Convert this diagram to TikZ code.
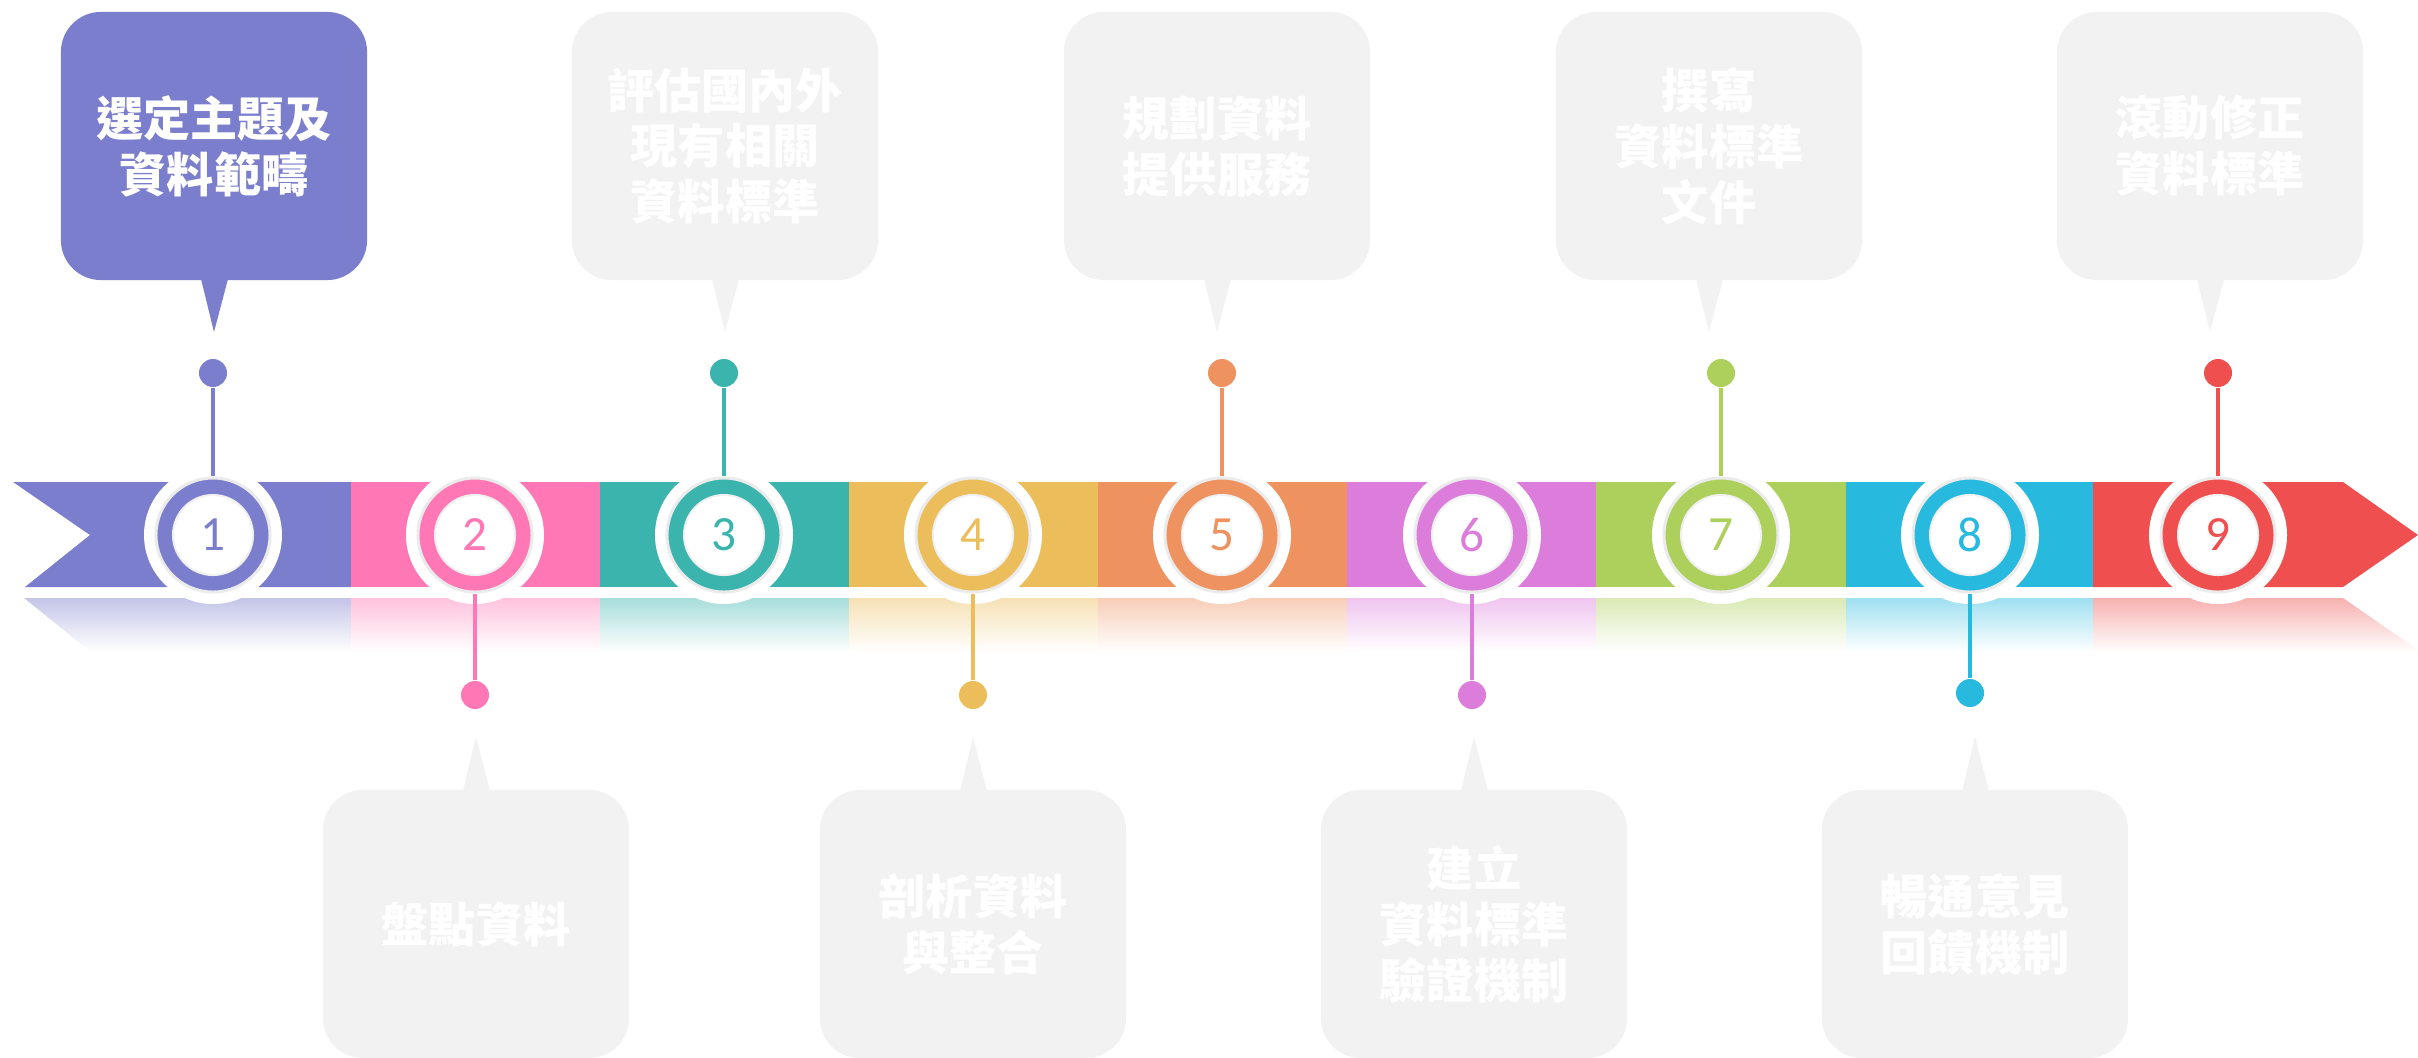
\documentclass[tikz,border=0pt]{standalone}
\usepackage{fontspec}
\setmainfont{Carlito}
\newfontfamily\cjk{Noto Sans CJK TC}

\definecolor{sPurple}{HTML}{7B7ECC}
\definecolor{sPink}{HTML}{FF77B4}
\definecolor{sTeal}{HTML}{3BB4AE}
\definecolor{sYellow}{HTML}{EBBD5B}
\definecolor{sOrange}{HTML}{EE9260}
\definecolor{sMagenta}{HTML}{DC7DDC}
\definecolor{sGreen}{HTML}{ADD05C}
\definecolor{sCyan}{HTML}{28BADE}
\definecolor{sRed}{HTML}{F04F4F}
\definecolor{boxgray}{HTML}{F2F2F2}

\begin{document}
\begin{tikzpicture}
		[
		x=0.01cm, y=-0.01cm, >=latex,
		%Stile
		box/.style={rectangle, rounded corners=0.4cm, minimum width=3.06cm, minimum height=2.68cm, text=white, align=center, font=\cjk\bfseries\fontsize{13.4}{15.9}\selectfont},
		ring/.style={circle, fill=#1, draw=black!8, line width=0.03cm, minimum size=1.14cm, inner sep=0pt},
		num/.style={circle, fill=white, draw=black!6, line width=0.02cm, minimum size=0.8cm, inner sep=0pt, text=#1, font=\fontsize{14}{14}\selectfont},
		dot/.style={circle, fill=#1, minimum size=0.28cm, inner sep=0pt}
		]
		
		%Hintergrund
		\fill[white] (0,0) rectangle (2418,1057);
		\useasboundingbox (0,0) rectangle (2418,1057);
		
		%Band
		\fill[sPurple] (13,482) -- (351,482) -- (351,587) -- (25,587) -- (90,535) -- cycle;
		\foreach \a/\b/\c in {351/600/sPink, 600/849/sTeal, 849/1098/sYellow, 1098/1347/sOrange, 1347/1596/sMagenta, 1596/1846/sGreen, 1846/2093/sCyan}
			\fill[\c] (\a,482) rectangle (\b,587);
		\fill[sRed] (2093,482) -- (2343,482) -- (2418,535) -- (2343,587) -- (2093,587) -- cycle;
		
		%Spiegelung
		\shade[top color=sPurple!45!white, bottom color=white] (24,598) -- (351,598) -- (351,652) -- (91,652) -- cycle;
		\foreach \a/\b/\c in {351/600/sPink, 600/849/sTeal, 849/1098/sYellow, 1098/1347/sOrange, 1347/1596/sMagenta, 1596/1846/sGreen, 1846/2093/sCyan}
			\shade[top color=\c!45!white, bottom color=white] (\a,598) rectangle (\b,652);
		\shade[top color=sRed!45!white, bottom color=white] (2093,598) -- (2343,598) -- (2418,650) -- (2418,652) -- (2093,652) -- cycle;
		
		%Kreise, Punkte und Linien
		\foreach \i/\cx/\dy/\c in {1/213/373/sPurple, 2/475/695/sPink, 3/724/373/sTeal, 4/973/695/sYellow, 5/1222/373/sOrange, 6/1472/695/sMagenta, 7/1721/373/sGreen, 8/1970/693/sCyan, 9/2218/373/sRed}
		{
			\fill[white] (\cx,535) circle (69);
			\node[ring=\c] (r\i) at (\cx,535) {};
			\node[num=\c] (n\i) at (\cx,535) {\i};
			\node[dot=\c] (d\i) at (\cx,\dy) {};
			\draw[\c, line width=0.04cm] (d\i) -- (r\i);
		}
		
		%Sprechblasen oben
		\node[box, fill=sPurple] (b1) at (214,146) {選定主題及\\資料範疇};
		\fill[sPurple] (201,279) -- (214,332) -- (228,279) -- cycle;
		\node[box, fill=boxgray] (b3) at (725,146) {評估國內外\\現有相關\\資料標準};
		\fill[boxgray] (712,279) -- (725,332) -- (739,279) -- cycle;
		\node[box, fill=boxgray] (b5) at (1217,146) {規劃資料\\提供服務};
		\fill[boxgray] (1204,279) -- (1217,332) -- (1231,279) -- cycle;
		\node[box, fill=boxgray] (b7) at (1709,146) {撰寫\\資料標準\\文件};
		\fill[boxgray] (1696,279) -- (1709,332) -- (1723,279) -- cycle;
		\node[box, fill=boxgray] (b9) at (2210,146) {滾動修正\\資料標準};
		\fill[boxgray] (2197,279) -- (2210,332) -- (2224,279) -- cycle;
		
		%Sprechblasen unten
		\node[box, fill=boxgray] (b2) at (476,924) {盤點資料};
		\fill[boxgray] (463,791) -- (476,737) -- (490,791) -- cycle;
		\node[box, fill=boxgray] (b4) at (973,924) {剖析資料\\與整合};
		\fill[boxgray] (960,791) -- (973,737) -- (987,791) -- cycle;
		\node[box, fill=boxgray] (b6) at (1474,924) {建立\\資料標準\\驗證機制};
		\fill[boxgray] (1461,791) -- (1474,737) -- (1488,791) -- cycle;
		\node[box, fill=boxgray] (b8) at (1975,924) {暢通意見\\回饋機制};
		\fill[boxgray] (1962,791) -- (1975,737) -- (1989,791) -- cycle;
	\end{tikzpicture}
\end{document}
